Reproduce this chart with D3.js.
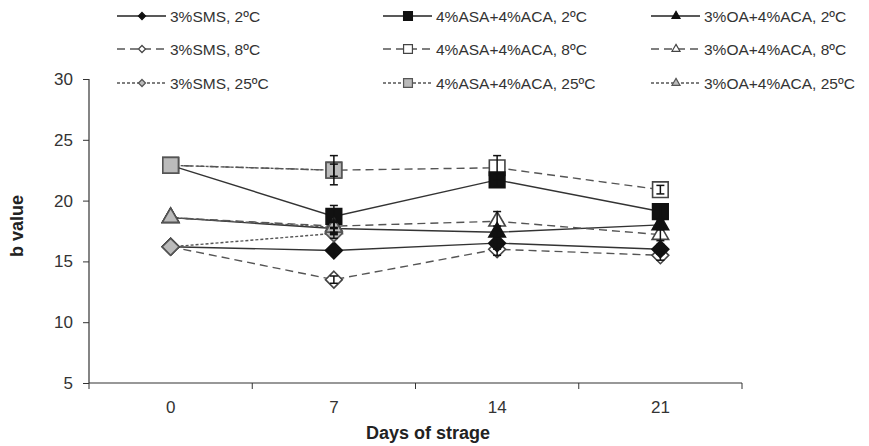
<!DOCTYPE html>
<html lang="en">
<head>
<meta charset="UTF-8">
<title>b value</title>
<script src="https://cdn.jsdelivr.net/npm/d3@7"></script>
<style>
  body { margin: 0; background: #fff; }
  text { font-family: "Liberation Sans", Arial, sans-serif; }
</style>
</head>
<body>
<script>
// data
var days = ["0", "7", "14", "21"];
var yTicks = [5, 10, 15, 20, 25, 30];

var sms2 = [16.2, 15.9, 16.5, 16.0];
var sms8 = [16.2, 13.5, 16.0, 15.5];
var sms25 = [16.2, 17.3];
var asa2 = [22.9, 18.7, 21.7, 19.1];
var asa8 = [22.9, 22.5, 22.7, 20.9];
var asa25 = [22.9, 22.5];
var oa2 = [18.6, 17.7, 17.4, 18.0];
var oa8 = [18.6, 17.9, 18.3, 17.2];
var oa25 = [18.6, 17.8];

var sms2Err = [0, 0.3, 0.5, 0.4];
var sms8Err = [0, 0.3, 0.5, 0.4];
var sms25Err = [0, 0.4];
var asa2Err = [0, 0.9, 0.5, 0.6];
var asa8Err = [0, 0.5, 1.0, 0.35];
var asa25Err = [0, 1.2];
var oa2Err = [0, 0.5, 0.5, 0.4];
var oa8Err = [0, 0.5, 0.8, 0.5];
var oa25Err = [0, 0.5];

var names = ["3%SMS, 2ºC", "4%ASA+4%ACA, 2ºC", "3%OA+4%ACA, 2ºC",
             "3%SMS, 8ºC", "4%ASA+4%ACA, 8ºC", "3%OA+4%ACA, 8ºC",
             "3%SMS, 25ºC", "4%ASA+4%ACA, 25ºC", "3%OA+4%ACA, 25ºC"];

// canvas
var width = 869, height = 446;
var svg = d3.select("body").append("svg")
    .attr("width", width).attr("height", height);

var x = d3.scaleBand().domain(days).range([89, 742]).padding(0);
var y = d3.scaleLinear().domain([5, 30]).range([383, 79]);

// series styles
var solid = null, dashed = "8,5", dotted = "3,2";
var series = [
  {name: names[0], v: sms2, e: sms2Err, shape: "diamond", fill: "#111", stroke: "#111", dash: solid},
  {name: names[1], v: asa2, e: asa2Err, shape: "square", fill: "#111", stroke: "#111", dash: solid},
  {name: names[2], v: oa2, e: oa2Err, shape: "triangle", fill: "#111", stroke: "#111", dash: solid},
  {name: names[3], v: sms8, e: sms8Err, shape: "diamond", fill: "#fff", stroke: "#444", dash: dashed},
  {name: names[4], v: asa8, e: asa8Err, shape: "square", fill: "#fff", stroke: "#444", dash: dashed},
  {name: names[5], v: oa8, e: oa8Err, shape: "triangle", fill: "#fff", stroke: "#444", dash: dashed},
  {name: names[6], v: sms25, e: sms25Err, shape: "diamond", fill: "#bbb", stroke: "#555", dash: dotted},
  {name: names[7], v: asa25, e: asa25Err, shape: "square", fill: "#bbb", stroke: "#555", dash: dotted},
  {name: names[8], v: oa25, e: oa25Err, shape: "triangle", fill: "#bbb", stroke: "#555", dash: dotted}
];

function symbolOf(shape, big) {
  if (shape === "diamond") return d3.symbol().type(d3.symbolDiamond2).size(big ? 180 : 32)();
  if (shape === "square") return d3.symbol().type(d3.symbolSquare2).size(big ? 310 : 100)();
  return d3.symbol().type(d3.symbolTriangle2).size(big ? 195 : 46)();
}

// axes
var yAxis = svg.append("g").attr("transform", "translate(89,0)")
    .call(d3.axisLeft(y).tickValues(yTicks).tickSize(6).tickPadding(10));
var xAxis = svg.append("g").attr("transform", "translate(0,383)")
    .call(d3.axisBottom(x).tickSize(0).tickPadding(18));
// tick marks on the band edges
xAxis.selectAll(".edge").data(d3.range(days.length + 1)).enter()
    .append("line").attr("class", "edge")
    .attr("x1", function (i) { return 89 + i * x.step(); })
    .attr("x2", function (i) { return 89 + i * x.step(); })
    .attr("y1", 0).attr("y2", 6)
    .attr("stroke", "#333");
svg.selectAll(".domain").attr("stroke", "#333").attr("stroke-width", 1.2);
svg.selectAll(".tick line").attr("stroke", "#333");
svg.selectAll(".tick text").attr("font-size", 17).attr("fill", "#333")
    .style("font-family", "Liberation Sans, Arial, sans-serif");
xAxis.select(".domain").attr("d", "M89,0H742");
yAxis.select(".domain").attr("d", "M0,79V383");

svg.append("text").attr("transform", "translate(23,226) rotate(-90)")
    .attr("text-anchor", "middle").attr("font-size", 18).attr("font-weight", "bold")
    .attr("fill", "#222").text("b value");
svg.append("text").attr("x", 428).attr("y", 439)
    .attr("text-anchor", "middle").attr("font-size", 18).attr("font-weight", "bold")
    .attr("fill", "#222").text("Days of strage");

// lines
var line = d3.line()
    .x(function (d, i) { return x(days[i]) + x.bandwidth() / 2; })
    .y(function (d) { return y(d); });

series.forEach(function (s) {
  svg.append("path").datum(s.v)
      .attr("d", line).attr("fill", "none")
      .attr("stroke", s.dash === solid ? "#333" : "#555")
      .attr("stroke-width", 1.4)
      .attr("stroke-dasharray", s.dash);
});

// markers: 8ºC, then 2ºC, then 25ºC on top
[3, 4, 5, 0, 1, 2, 6, 7, 8].forEach(function (k) {
  var s = series[k];
  svg.append("g").selectAll("path").data(s.v).enter().append("path")
      .attr("d", symbolOf(s.shape, true))
      .attr("transform", function (d, i) {
        return "translate(" + (x(days[i]) + x.bandwidth() / 2) + "," + y(d) + ")";
      })
      .attr("fill", s.fill).attr("stroke", s.stroke).attr("stroke-width", 1.6);
});

// error bars, drawn over the markers
series.forEach(function (s) {
  var g = svg.append("g");
  s.v.forEach(function (v, i) {
    if (!s.e[i]) return;
    var cx = x(days[i]) + x.bandwidth() / 2;
    g.append("line").attr("x1", cx).attr("x2", cx)
        .attr("y1", y(v + s.e[i])).attr("y2", y(v - s.e[i]))
        .attr("stroke", "#111").attr("stroke-width", 1.5);
    [v + s.e[i], v - s.e[i]].forEach(function (w) {
      g.append("line").attr("x1", cx - 4).attr("x2", cx + 4)
          .attr("y1", y(w)).attr("y2", y(w))
          .attr("stroke", "#111").attr("stroke-width", 1.5);
    });
  });
});

// legend
var legX = [117, 383, 651];
var legY = [16, 49, 83];
series.forEach(function (s, k) {
  var col = k % 3, row = Math.floor(k / 3);
  var g = svg.append("g").attr("transform", "translate(" + legX[col] + "," + legY[row] + ")");
  g.append("line").attr("x1", 0).attr("x2", 49).attr("y1", 0).attr("y2", 0)
      .attr("stroke", s.dash === solid ? "#222" : "#555").attr("stroke-width", 1.3)
      .attr("stroke-dasharray", s.dash);
  g.append("path").attr("d", symbolOf(s.shape, false))
      .attr("transform", "translate(25,0)")
      .attr("fill", s.fill).attr("stroke", s.stroke).attr("stroke-width", 1.2);
  g.append("text").attr("x", 53).attr("y", 5.5).attr("font-size", 15.5)
      .attr("fill", "#333").text(s.name);
});
</script>
</body>
</html>
